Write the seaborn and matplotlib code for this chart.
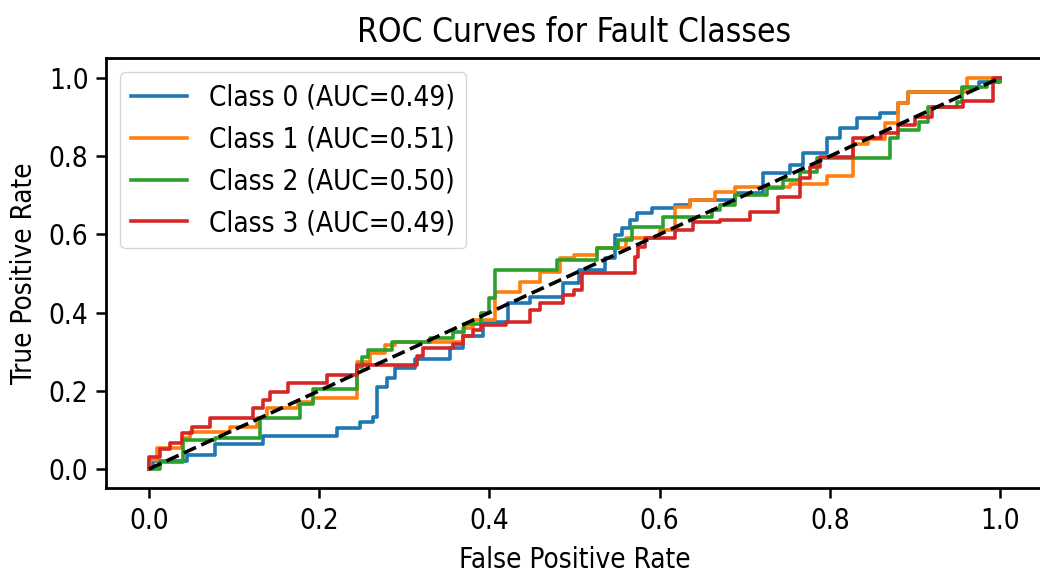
import matplotlib
matplotlib.use("Agg")
import matplotlib.pyplot as plt
import seaborn as sns
import pandas as pd

# ---- data ----
class_names = ["Class 0", "Class 1", "Class 2", "Class 3"]
auc_values = [0.49, 0.51, 0.50, 0.49]

fpr_0 = [0.0, 0.005, 0.045, 0.078, 0.134, 0.221, 0.248, 0.263, 0.268, 0.28, 0.289, 0.313, 0.354, 0.369,
         0.393, 0.422, 0.448, 0.487, 0.505, 0.536, 0.548, 0.556, 0.565, 0.573, 0.591, 0.618, 0.636, 0.689,
         0.722, 0.753, 0.769, 0.797, 0.812, 0.832, 0.859, 0.88, 0.892, 0.955, 0.975, 1.0]
tpr_0 = [0.0, 0.02, 0.035, 0.065, 0.085, 0.105, 0.12, 0.133, 0.21, 0.233, 0.258, 0.28, 0.31, 0.34,
         0.375, 0.425, 0.44, 0.476, 0.51, 0.54, 0.598, 0.616, 0.637, 0.655, 0.667, 0.675, 0.688, 0.706,
         0.757, 0.778, 0.808, 0.847, 0.872, 0.898, 0.91, 0.936, 0.964, 0.974, 0.99, 1.0]

fpr_1 = [0.0, 0.0, 0.009, 0.039, 0.048, 0.095, 0.127, 0.139, 0.175, 0.193, 0.244, 0.26, 0.277, 0.289,
         0.369, 0.381, 0.407, 0.436, 0.459, 0.483, 0.5, 0.527, 0.56, 0.6, 0.618, 0.636, 0.665, 0.689,
         0.753, 0.797, 0.827, 0.845, 0.865, 0.88, 0.892, 0.961, 1.0]
tpr_1 = [0.0, 0.023, 0.053, 0.08, 0.095, 0.107, 0.13, 0.156, 0.17, 0.182, 0.274, 0.297, 0.317, 0.325,
         0.36, 0.38, 0.453, 0.478, 0.504, 0.539, 0.547, 0.565, 0.59, 0.611, 0.67, 0.688, 0.709, 0.72,
         0.73, 0.75, 0.83, 0.845, 0.885, 0.936, 0.964, 1.0, 1.0]

fpr_2 = [0.0, 0.013, 0.04, 0.078, 0.13, 0.177, 0.193, 0.244, 0.25, 0.257, 0.285, 0.33, 0.357, 0.37,
         0.39, 0.4, 0.407, 0.479, 0.527, 0.551, 0.567, 0.604, 0.662, 0.671, 0.689, 0.726, 0.745, 0.765,
         0.785, 0.871, 0.88, 0.905, 0.915, 0.95, 0.955, 0.985, 1.0]
tpr_2 = [0.0, 0.018, 0.074, 0.08, 0.13, 0.165, 0.205, 0.26, 0.286, 0.304, 0.325, 0.335, 0.35, 0.37,
         0.4, 0.437, 0.51, 0.535, 0.565, 0.586, 0.619, 0.645, 0.662, 0.675, 0.7, 0.718, 0.74, 0.76,
         0.795, 0.847, 0.867, 0.887, 0.926, 0.939, 0.977, 0.99, 1.0]

fpr_3 = [0.0, 0.0, 0.013, 0.025, 0.039, 0.05, 0.072, 0.122, 0.134, 0.142, 0.163, 0.209, 0.244, 0.315,
         0.322, 0.357, 0.369, 0.381, 0.39, 0.42, 0.448, 0.459, 0.487, 0.5, 0.509, 0.571, 0.575, 0.583,
         0.618, 0.639, 0.671, 0.706, 0.739, 0.765, 0.777, 0.788, 0.827, 0.86, 0.88, 0.9, 0.92, 0.957,
         0.992, 1.0]
tpr_3 = [0.0, 0.03, 0.05, 0.066, 0.092, 0.107, 0.13, 0.156, 0.176, 0.197, 0.22, 0.24, 0.266, 0.29,
         0.31, 0.32, 0.34, 0.355, 0.368, 0.376, 0.407, 0.424, 0.445, 0.458, 0.5, 0.542, 0.568, 0.59,
         0.611, 0.632, 0.637, 0.657, 0.696, 0.744, 0.772, 0.798, 0.847, 0.86, 0.88, 0.9, 0.926, 0.94,
         1.0, 1.0]

fprs = [fpr_0, fpr_1, fpr_2, fpr_3]
tprs = [tpr_0, tpr_1, tpr_2, tpr_3]

chance_x = [0.0, 1.0]
chance_y = [0.0, 1.0]

# ---- figure ----
plt.rcParams['font.family'] = ['DejaVu Sans']
plt.rcParams['font.stretch'] = 'condensed'
fig = plt.figure(figsize=(10.40, 5.77), dpi=100)
ax = fig.add_axes([0.1024, 0.1534, 0.90, 0.7453])

colors = sns.color_palette("tab10", 4)
for i in range(4):
    df = pd.DataFrame({"fpr": fprs[i], "tpr": tprs[i]})
    sns.lineplot(data=df, x="fpr", y="tpr", ax=ax, color=colors[i], linewidth=2.6,
                 estimator=None, sort=False, drawstyle="steps-post",
                 label=f"{class_names[i]} (AUC={auc_values[i]:.2f})")

sns.lineplot(x=chance_x, y=chance_y, ax=ax, color="black", linestyle="--", linewidth=2.6)

ax.set_xlim(-0.05, 1.05)
ax.set_ylim(-0.05, 1.05)
ax.set_xticks([0.0, 0.2, 0.4, 0.6, 0.8, 1.0])
ax.set_yticks([0.0, 0.2, 0.4, 0.6, 0.8, 1.0])
ax.tick_params(labelsize=20, width=1.8, length=7, pad=6)
for s in ax.spines.values():
    s.set_linewidth(2.0)
ax.set_xlabel("False Positive Rate", fontsize=20, labelpad=8)
ax.set_ylabel("True Positive Rate", fontsize=20, labelpad=8)
ax.set_title("ROC Curves for Fault Classes", fontsize=24, pad=12)
ax.legend(loc="upper left", fontsize=20, handlelength=2.0)

fig.savefig("out.png", dpi=100)
